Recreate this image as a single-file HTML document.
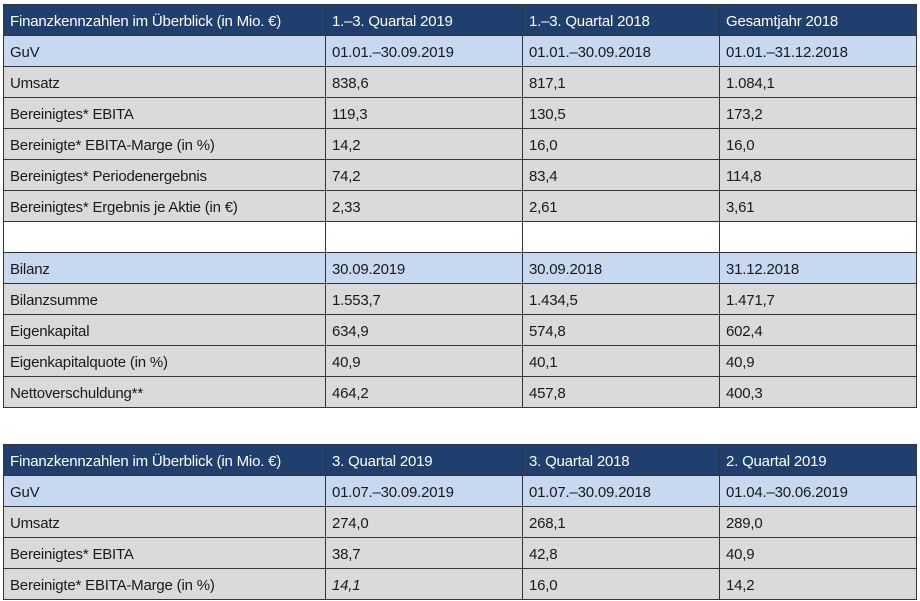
<!DOCTYPE html>
<html><head><meta charset="utf-8"><style>
body{margin:0;width:920px;height:601px;background:#fff;position:relative;overflow:hidden;font-family:"Liberation Sans",Arial,sans-serif;}
table{position:absolute;left:3px;border-collapse:collapse;table-layout:fixed;width:913px;font-size:15px;color:#1a1a1a;}
td{border:1px solid #333;height:31px;padding:0 0 0 6px;white-space:nowrap;overflow:hidden;background:#dadada;letter-spacing:-0.2px;vertical-align:middle;padding-top:3px;box-sizing:border-box;}
tr.h td{background:#1f3f6f;color:#fff;}
tr.b td{background:#c6d9f0;}
tr.e td{background:#fff;}
</style></head><body>
<table style="top:4px">
<colgroup><col style="width:322px"><col style="width:197px"><col style="width:197px"><col style="width:197px"></colgroup>
<tr class="h"><td>Finanzkennzahlen im Überblick (in Mio. €)</td><td>1.–3. Quartal 2019</td><td>1.–3. Quartal 2018</td><td>Gesamtjahr 2018</td></tr>
<tr class="b"><td>GuV</td><td>01.01.–30.09.2019</td><td>01.01.–30.09.2018</td><td>01.01.–31.12.2018</td></tr>
<tr><td>Umsatz</td><td>838,6</td><td>817,1</td><td>1.084,1</td></tr>
<tr><td>Bereinigtes* EBITA</td><td>119,3</td><td>130,5</td><td>173,2</td></tr>
<tr><td>Bereinigte* EBITA-Marge (in %)</td><td>14,2</td><td>16,0</td><td>16,0</td></tr>
<tr><td>Bereinigtes* Periodenergebnis</td><td>74,2</td><td>83,4</td><td>114,8</td></tr>
<tr><td>Bereinigtes* Ergebnis je Aktie (in €)</td><td>2,33</td><td>2,61</td><td>3,61</td></tr>
<tr class="e"><td></td><td></td><td></td><td></td></tr>
<tr class="b"><td>Bilanz</td><td>30.09.2019</td><td>30.09.2018</td><td>31.12.2018</td></tr>
<tr><td>Bilanzsumme</td><td>1.553,7</td><td>1.434,5</td><td>1.471,7</td></tr>
<tr><td>Eigenkapital</td><td>634,9</td><td>574,8</td><td>602,4</td></tr>
<tr><td>Eigenkapitalquote (in %)</td><td>40,9</td><td>40,1</td><td>40,9</td></tr>
<tr><td>Nettoverschuldung**</td><td>464,2</td><td>457,8</td><td>400,3</td></tr>
</table>
<table style="top:444px">
<colgroup><col style="width:322px"><col style="width:197px"><col style="width:197px"><col style="width:197px"></colgroup>
<tr class="h"><td>Finanzkennzahlen im Überblick (in Mio. €)</td><td>3. Quartal 2019</td><td>3. Quartal 2018</td><td>2. Quartal 2019</td></tr>
<tr class="b"><td>GuV</td><td>01.07.–30.09.2019</td><td>01.07.–30.09.2018</td><td>01.04.–30.06.2019</td></tr>
<tr><td>Umsatz</td><td>274,0</td><td>268,1</td><td>289,0</td></tr>
<tr><td>Bereinigtes* EBITA</td><td>38,7</td><td>42,8</td><td>40,9</td></tr>
<tr><td>Bereinigte* EBITA-Marge (in %)</td><td><i>14,1</i></td><td>16,0</td><td>14,2</td></tr>
</table>
</body></html>
